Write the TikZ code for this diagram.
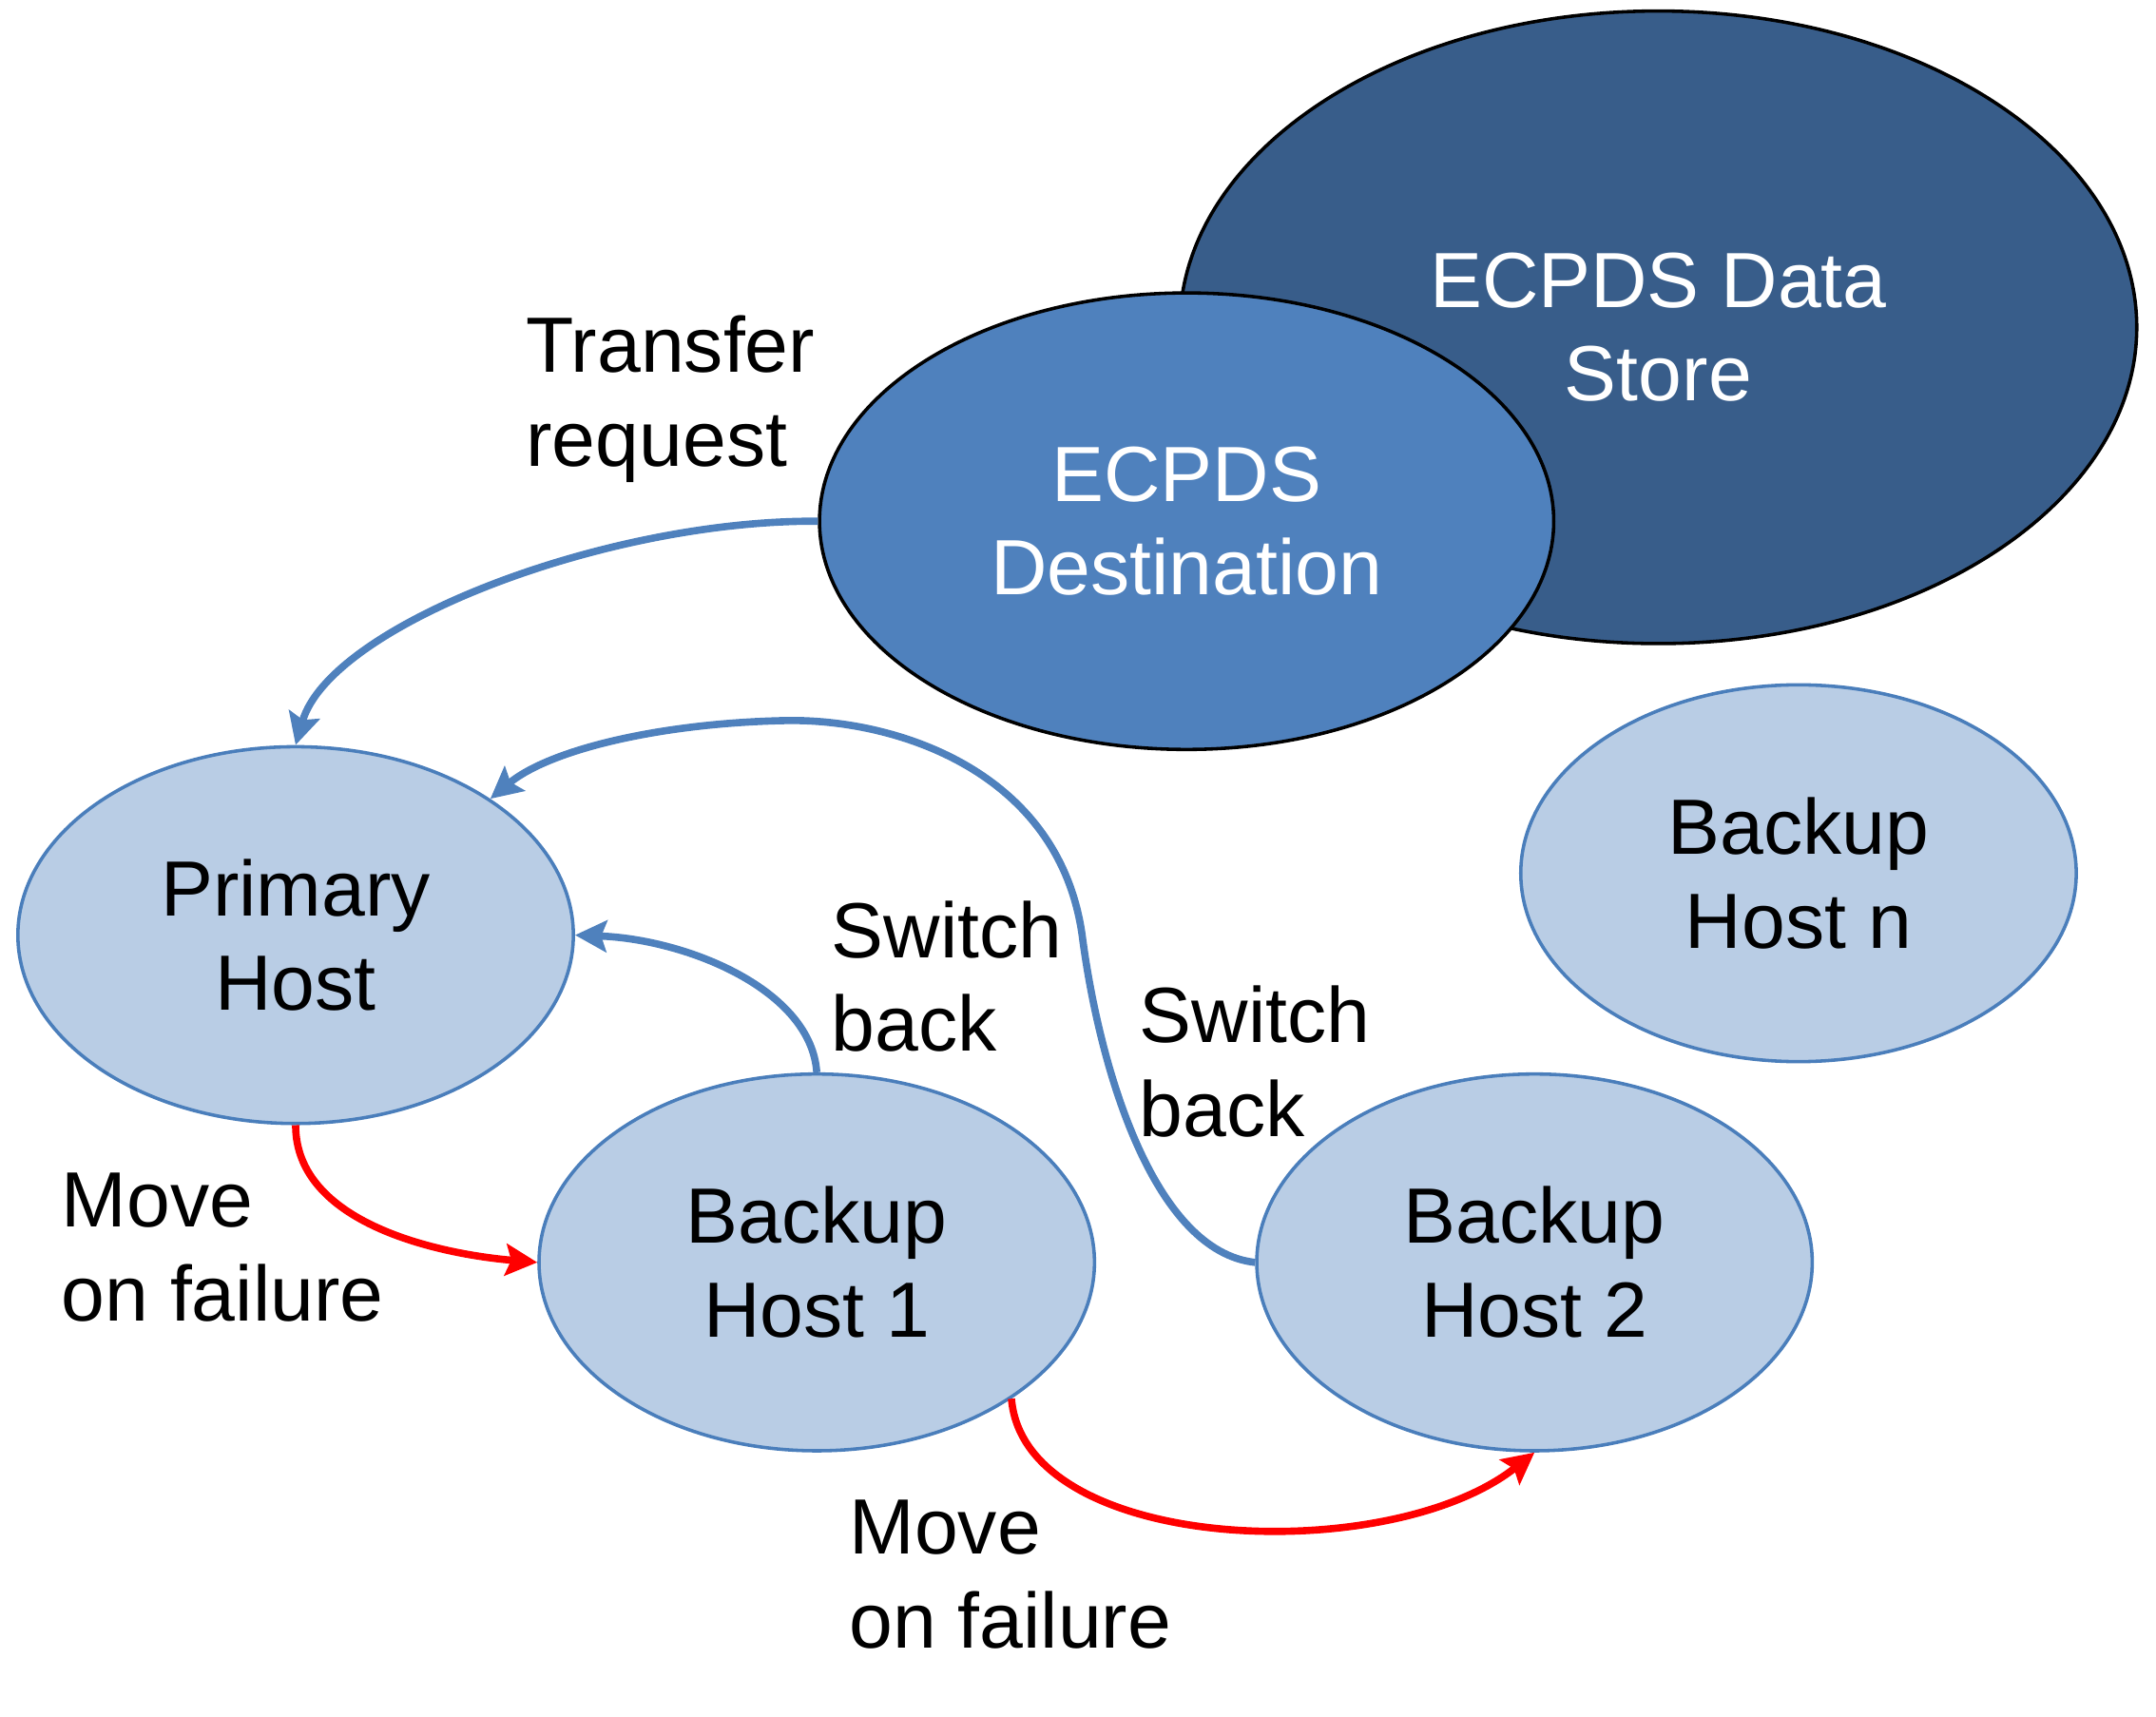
\documentclass[tikz,border=0pt]{standalone}
\usepackage{fontspec}
\setmainfont{Liberation Sans}
\usetikzlibrary{shapes.geometric,arrows.meta}
\definecolor{storefill}{HTML}{385D8A}
\definecolor{destfill}{HTML}{4F81BD}
\definecolor{hostfill}{HTML}{B9CDE5}
\definecolor{hostline}{HTML}{4A7EBB}
\definecolor{bluearrow}{HTML}{4F81BD}
\definecolor{redarrow}{HTML}{FF0000}
\newcommand\labfont{\fontsize{16.2}{19.4}\selectfont}
\tikzset{
  host/.style={ellipse, draw=hostline, fill=hostfill, line width=0.7pt,
    minimum width=40.4mm, minimum height=27.4mm, inner sep=0pt, align=center, font=\labfont},
  darkell/.style={ellipse, draw=black, line width=0.7pt, inner sep=0pt,
    align=center, font=\labfont, text=white},
  lab/.style={anchor=west, align=left, inner sep=0pt, font=\labfont},
  bluearr/.style={draw=bluearrow, line width=1.5pt, -{Stealth[length=2.3mm,width=2.3mm,inset=0.4mm]}},
  redarr/.style={draw=redarrow, line width=1.5pt, -{Stealth[length=2.3mm,width=2.3mm,inset=0.4mm]}}
}
\begin{document}
\begin{tikzpicture}[x=0.1mm,y=-0.1mm]
\useasboundingbox (0,0) rectangle (1568,1248);
\node[darkell, fill=storefill, minimum width=69.6mm, minimum height=46mm] (store) at (1206,238) {ECPDS Data\\Store};
\node[darkell, fill=destfill, minimum width=53.4mm, minimum height=33.2mm] (dest) at (863,379) {ECPDS\\Destination};
\node[host] (prim) at (215,680) {Primary\\Host};
\node[host] (b1) at (594,918) {Backup\\Host 1};
\node[host] (b2) at (1116,918) {Backup\\Host 2};
\node[host] (bn) at (1308,635) {Backup\\Host n};

\node[lab] (ltr) at (382,290) {Transfer\\request};
\node[lab] (lsb1) at (604,710) {Switch\\back};
\node[lab] (lsb2) at (828,772) {Switch\\back};
\node[lab] (lmf1) at (44,907) {Move\\on failure};
\node[lab] (lmf2) at (617,1145) {Move\\on failure};

\draw[bluearr] (dest.west) .. controls (440,378) and (240,455) .. (prim.north);
\draw[bluearr] (b1.north) .. controls (590,720) and (500,683) .. (prim.east);
\draw[bluearr] (b2.west) .. controls (840,910) and (800,780) .. (787,680)
  .. controls (770,560) and (650,522) .. (570,524)
  .. controls (480,526) and (400,545) .. (prim.35);
\draw[redarr] (prim.south) .. controls (215,890) and (320,912) .. (b1.west);
\draw[redarr] (b1.-35) .. controls (745,1130) and (1010,1140) .. (b2.south);
\end{tikzpicture}
\end{document}
